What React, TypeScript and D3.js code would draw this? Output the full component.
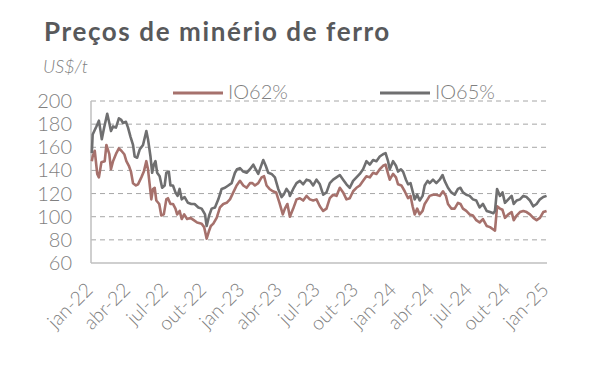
import React from "react";
import * as d3 from "d3";

const title = "Preços de minério de ferro";
const unit = "US$/t";
const seriesNames = ["IO62%", "IO65%"];
const yTicks = [60, 80, 100, 120, 140, 160, 180, 200];
const xTickLabels = ["jan-22", "abr-22", "jul-22", "out-22", "jan-23", "abr-23", "jul-23", "out-23", "jan-24", "abr-24", "jul-24", "out-24", "jan-25"];
const xTickDates = ["2022-01-01", "2022-04-01", "2022-07-01", "2022-10-01", "2023-01-01", "2023-04-01", "2023-07-01", "2023-10-01", "2024-01-01", "2024-04-01", "2024-07-01", "2024-10-01", "2025-01-01"];

const io62: [string, number][] = [
  ["2022-01-03", 148], ["2022-01-05", 152], ["2022-01-10", 157], ["2022-01-16", 137], ["2022-01-20", 134],
  ["2022-01-26", 147], ["2022-02-03", 148], ["2022-02-07", 162], ["2022-02-14", 154], ["2022-02-18", 141],
  ["2022-02-23", 148], ["2022-03-03", 155], ["2022-03-09", 159], ["2022-03-15", 157], ["2022-03-22", 154],
  ["2022-03-27", 148], ["2022-04-02", 144], ["2022-04-07", 139], ["2022-04-12", 129], ["2022-04-19", 127],
  ["2022-04-24", 128], ["2022-05-02", 134], ["2022-05-08", 139], ["2022-05-14", 148], ["2022-05-18", 141],
  ["2022-05-22", 128], ["2022-05-26", 115], ["2022-05-30", 124], ["2022-06-03", 125], ["2022-06-07", 114],
  ["2022-06-14", 111], ["2022-06-19", 101], ["2022-06-25", 102], ["2022-07-01", 115], ["2022-07-05", 116],
  ["2022-07-11", 111], ["2022-07-17", 111], ["2022-07-23", 107], ["2022-07-27", 102], ["2022-08-02", 105],
  ["2022-08-07", 98], ["2022-08-13", 102], ["2022-08-20", 98], ["2022-08-28", 99], ["2022-09-05", 97],
  ["2022-09-13", 95], ["2022-09-24", 94], ["2022-09-30", 91], ["2022-10-06", 81], ["2022-10-11", 87],
  ["2022-10-16", 92], ["2022-10-22", 94], ["2022-10-30", 99], ["2022-11-07", 108], ["2022-11-15", 111],
  ["2022-11-23", 112], ["2022-12-01", 115], ["2022-12-09", 121], ["2022-12-17", 127], ["2022-12-25", 131],
  ["2023-01-02", 127], ["2023-01-10", 125], ["2023-01-18", 129], ["2023-01-24", 129], ["2023-01-30", 127],
  ["2023-02-07", 129], ["2023-02-15", 134], ["2023-02-21", 135], ["2023-02-27", 127], ["2023-03-06", 124],
  ["2023-03-14", 122], ["2023-03-22", 121], ["2023-03-30", 112], ["2023-04-07", 102], ["2023-04-12", 107],
  ["2023-04-18", 111], ["2023-04-24", 100], ["2023-05-02", 107], ["2023-05-10", 115], ["2023-05-18", 116],
  ["2023-05-26", 114], ["2023-06-03", 118], ["2023-06-11", 115], ["2023-06-19", 114], ["2023-06-27", 115],
  ["2023-07-05", 109], ["2023-07-13", 105], ["2023-07-21", 107], ["2023-07-29", 116], ["2023-08-06", 119],
  ["2023-08-14", 118], ["2023-08-22", 125], ["2023-08-30", 121], ["2023-09-07", 115], ["2023-09-15", 116],
  ["2023-09-23", 122], ["2023-10-01", 125], ["2023-10-09", 127], ["2023-10-17", 131], ["2023-10-25", 135],
  ["2023-11-02", 134], ["2023-11-10", 138], ["2023-11-18", 137], ["2023-11-26", 141], ["2023-12-04", 144],
  ["2023-12-10", 145], ["2023-12-16", 137], ["2023-12-20", 132], ["2023-12-28", 137], ["2024-01-04", 134],
  ["2024-01-09", 128], ["2024-01-17", 127], ["2024-01-25", 122], ["2024-02-02", 116], ["2024-02-08", 118],
  ["2024-02-13", 109], ["2024-02-18", 102], ["2024-02-24", 107], ["2024-03-01", 102], ["2024-03-08", 105],
  ["2024-03-13", 111], ["2024-03-20", 115], ["2024-03-25", 118], ["2024-04-02", 119], ["2024-04-10", 119],
  ["2024-04-18", 118], ["2024-04-26", 122], ["2024-05-03", 118], ["2024-05-08", 111], ["2024-05-16", 107],
  ["2024-05-24", 107], ["2024-06-01", 112], ["2024-06-07", 111], ["2024-06-13", 107], ["2024-06-21", 105],
  ["2024-06-29", 102], ["2024-07-07", 101], ["2024-07-15", 97], ["2024-07-23", 95], ["2024-07-31", 98],
  ["2024-08-09", 92], ["2024-08-17", 91], ["2024-08-25", 89], ["2024-08-29", 88], ["2024-09-03", 109],
  ["2024-09-10", 107], ["2024-09-16", 106], ["2024-09-22", 99], ["2024-09-30", 102], ["2024-10-08", 104],
  ["2024-10-13", 97], ["2024-10-20", 101], ["2024-10-28", 104], ["2024-11-05", 105], ["2024-11-13", 104],
  ["2024-11-21", 102], ["2024-11-29", 99], ["2024-12-07", 97], ["2024-12-15", 99], ["2024-12-23", 104],
  ["2024-12-31", 105],
];

const io65: [string, number][] = [
  ["2022-01-03", 155], ["2022-01-05", 171], ["2022-01-14", 178], ["2022-01-20", 183], ["2022-01-24", 174],
  ["2022-01-27", 167], ["2022-02-01", 176], ["2022-02-09", 189], ["2022-02-14", 181], ["2022-02-18", 174],
  ["2022-02-23", 178], ["2022-03-02", 177], ["2022-03-09", 185], ["2022-03-14", 184], ["2022-03-19", 181],
  ["2022-03-26", 182], ["2022-03-31", 177], ["2022-04-06", 169], ["2022-04-12", 162], ["2022-04-16", 152],
  ["2022-04-22", 151], ["2022-04-28", 158], ["2022-05-06", 162], ["2022-05-14", 174], ["2022-05-18", 167],
  ["2022-05-24", 152], ["2022-05-28", 138], ["2022-06-01", 145], ["2022-06-05", 148], ["2022-06-09", 138],
  ["2022-06-15", 135], ["2022-06-21", 125], ["2022-06-27", 127], ["2022-07-01", 138], ["2022-07-07", 139],
  ["2022-07-11", 127], ["2022-07-17", 127], ["2022-07-23", 121], ["2022-07-28", 118], ["2022-08-02", 124],
  ["2022-08-07", 115], ["2022-08-14", 117], ["2022-08-22", 112], ["2022-08-30", 111], ["2022-09-07", 111],
  ["2022-09-16", 108], ["2022-09-24", 107], ["2022-10-02", 102], ["2022-10-06", 92], ["2022-10-12", 101],
  ["2022-10-18", 107], ["2022-10-26", 108], ["2022-11-03", 115], ["2022-11-11", 124], ["2022-11-19", 125],
  ["2022-11-27", 127], ["2022-12-05", 129], ["2022-12-13", 138], ["2022-12-18", 141], ["2022-12-25", 142],
  ["2023-01-02", 139], ["2023-01-10", 138], ["2023-01-18", 141], ["2023-01-26", 145], ["2023-02-01", 141],
  ["2023-02-07", 137], ["2023-02-15", 145], ["2023-02-19", 149], ["2023-02-25", 144], ["2023-03-03", 138],
  ["2023-03-11", 137], ["2023-03-19", 134], ["2023-03-27", 124], ["2023-04-04", 117], ["2023-04-09", 119],
  ["2023-04-16", 124], ["2023-04-22", 121], ["2023-04-24", 118], ["2023-05-02", 124], ["2023-05-10", 129],
  ["2023-05-18", 131], ["2023-05-26", 128], ["2023-06-03", 132], ["2023-06-11", 131], ["2023-06-19", 127],
  ["2023-06-27", 132], ["2023-07-05", 128], ["2023-07-13", 119], ["2023-07-21", 121], ["2023-07-29", 129],
  ["2023-08-06", 132], ["2023-08-14", 134], ["2023-08-22", 136], ["2023-08-30", 132], ["2023-09-07", 128],
  ["2023-09-15", 125], ["2023-09-23", 131], ["2023-10-01", 134], ["2023-10-09", 137], ["2023-10-17", 141],
  ["2023-10-25", 148], ["2023-11-02", 145], ["2023-11-10", 149], ["2023-11-18", 148], ["2023-11-26", 152],
  ["2023-12-04", 154], ["2023-12-10", 155], ["2023-12-16", 148], ["2023-12-20", 141], ["2023-12-28", 148],
  ["2024-01-04", 144], ["2024-01-09", 139], ["2024-01-16", 141], ["2024-01-21", 139], ["2024-01-28", 132],
  ["2024-02-02", 128], ["2024-02-08", 129], ["2024-02-13", 122], ["2024-02-18", 115], ["2024-02-24", 119],
  ["2024-03-01", 114], ["2024-03-08", 118], ["2024-03-13", 127], ["2024-03-20", 131], ["2024-03-25", 129],
  ["2024-04-02", 132], ["2024-04-10", 129], ["2024-04-18", 132], ["2024-04-25", 136], ["2024-04-30", 131],
  ["2024-05-08", 125], ["2024-05-16", 121], ["2024-05-24", 119], ["2024-06-01", 124], ["2024-06-07", 125],
  ["2024-06-13", 121], ["2024-06-21", 119], ["2024-06-29", 118], ["2024-07-07", 115], ["2024-07-15", 114],
  ["2024-07-23", 108], ["2024-07-31", 111], ["2024-08-09", 105], ["2024-08-17", 104], ["2024-08-25", 103],
  ["2024-08-29", 105], ["2024-09-03", 124], ["2024-09-10", 118], ["2024-09-16", 121], ["2024-09-22", 112],
  ["2024-09-30", 115], ["2024-10-08", 118], ["2024-10-13", 111], ["2024-10-20", 114], ["2024-10-28", 115],
  ["2024-11-05", 118], ["2024-11-13", 117], ["2024-11-21", 114], ["2024-11-29", 109], ["2024-12-07", 111],
  ["2024-12-15", 115], ["2024-12-23", 117], ["2024-12-31", 118],
];

const W = 606;
const H = 388;
const M = { left: 91, right: 547, top: 101, bottom: 263 };
const colors = ["#a6716c", "#6f6f70"];
const font = "Lato, 'Open Sans', sans-serif";

export default function App() {
  const parse = d3.timeParse("%Y-%m-%d");
  const x = d3
    .scaleTime()
    .domain([parse("2022-01-01") as Date, parse("2025-01-01") as Date])
    .range([M.left, M.right]);
  const y = d3.scaleLinear().domain([60, 200]).range([M.bottom, M.top]);
  const line = d3
    .line<[string, number]>()
    .x((d) => x(parse(d[0]) as Date))
    .y((d) => y(d[1]));

  const series = [io62, io65];
  const legendX = [173, 380];

  return (
    <svg
      width={W}
      height={H}
      style={{ position: "absolute", left: 0, top: 0, background: "#fff" }}
      fontFamily={font}
    >
      <text x={44} y={41} fontSize={26} fontWeight={700} letterSpacing={1.6} fill="#58595b">
        {title}
      </text>
      <text x={43} y={73} fontSize={18} fontStyle="italic" fontWeight={300} fill="#7f7f7f">
        {unit}
      </text>

      {yTicks.slice(1).map((t) => (
        <line
          key={"g" + t}
          x1={M.left}
          x2={M.right}
          y1={y(t)}
          y2={y(t)}
          stroke="#a6a6a6"
          strokeWidth={1}
          strokeDasharray="5,4"
        />
      ))}
      {yTicks.map((t) => (
        <text
          key={"yl" + t}
          x={72}
          y={y(t)}
          dy="0.35em"
          textAnchor="end"
          fontSize={20}
          fontWeight={300}
          fill="#7f7f7f"
        >
          {t}
        </text>
      ))}
      <line x1={M.left} x2={M.left} y1={M.top} y2={M.bottom} stroke="#bfbfbf" strokeWidth={1.5} />
      <line x1={M.left} x2={M.right} y1={M.bottom} y2={M.bottom} stroke="#bfbfbf" strokeWidth={1.5} />

      {xTickDates.map((d, i) => {
        const tx = x(parse(d) as Date) + 3;
        const ty = 291;
        return (
          <text
            key={"xl" + d}
            x={tx}
            y={ty}
            transform={`rotate(-45 ${tx} ${ty})`}
            textAnchor="end"
            fontSize={19.5}
            fontWeight={300}
            fill="#7f7f7f"
          >
            {xTickLabels[i]}
          </text>
        );
      })}

      {series.map((s, i) => (
        <path
          key={"s" + i}
          d={line(s) || ""}
          fill="none"
          stroke={colors[i]}
          strokeWidth={2.6}
          strokeLinejoin="round"
        />
      ))}

      {seriesNames.map((n, i) => (
        <g key={"lg" + n}>
          <line
            x1={legendX[i]}
            x2={legendX[i] + 50}
            y1={93}
            y2={93}
            stroke={colors[i]}
            strokeWidth={3}
          />
          <text x={legendX[i] + 55} y={99} fontSize={20} fontWeight={300} fill="#7f7f7f">
            {n}
          </text>
        </g>
      ))}
    </svg>
  );
}
